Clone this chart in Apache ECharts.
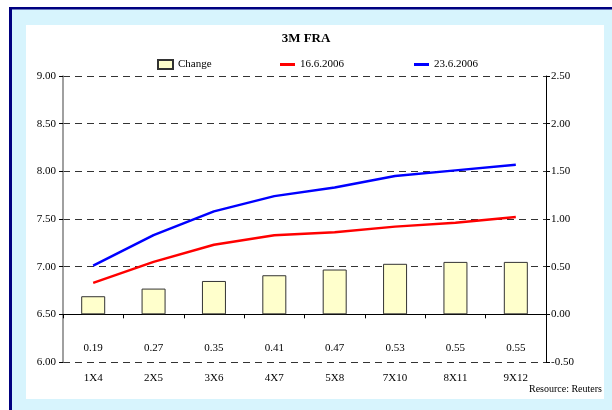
<!DOCTYPE html>
<html>
<head>
<meta charset="utf-8">
<script src="https://cdn.jsdelivr.net/npm/echarts@6/dist/echarts.min.js"></script>
<style>
html,body{margin:0;padding:0;background:#fff;}
#chart{width:612px;height:410px;}
</style>
</head>
<body>
<div id="chart"></div>
<script>
var categories = ['1X4','2X5','3X6','4X7','5X8','7X10','8X11','9X12'];
var change = [0.19,0.27,0.35,0.41,0.47,0.53,0.55,0.55];
var fra16 = [6.83,7.05,7.23,7.33,7.36,7.42,7.46,7.52];
var fra23 = [7.01,7.33,7.58,7.74,7.83,7.95,8.01,8.07];

var serif = 'Liberation Serif, Times New Roman, serif';
var legendText = {fontSize:11, color:'#000', fontFamily:serif};
var chart = echarts.init(document.getElementById('chart'), null, {renderer:'canvas'});
chart.setOption({
  animation:false,
  textStyle:{fontFamily:serif},
  graphic:[
    {type:'rect', z:-100, silent:true, shape:{x:10,y:8,width:602,height:402}, style:{fill:'#D7F4FD'}},
    {type:'rect', z:-99, silent:true, shape:{x:26,y:25,width:578,height:374}, style:{fill:'#FFFFFF'}},
    {type:'rect', z:-98, silent:true, shape:{x:9,y:7,width:603,height:2.5}, style:{fill:'#000080'}},
    {type:'rect', z:-98, silent:true, shape:{x:9,y:7,width:3,height:403}, style:{fill:'#000080'}},
    {type:'text', z:10, silent:true, style:{text:'Resource: Reuters', x:602, y:389, align:'right', verticalAlign:'middle', font:'10px ' + serif, fill:'#000'}}
  ],
  title:{
    text:'3M FRA', left:'center', top:27,
    textStyle:{fontSize:13, fontWeight:'bold', color:'#000', fontFamily:serif}
  },
  legend:[
    {left:157, top:59, padding:0, itemWidth:15, itemHeight:9, itemGap:2, textStyle:legendText,
     data:[{name:'Change', icon:'rect'}]},
    {left:280, top:59, padding:0, itemWidth:15, itemHeight:3, textStyle:legendText,
     data:[{name:'16.6.2006', icon:'rect'}]},
    {left:414, top:59, padding:0, itemWidth:15, itemHeight:3, textStyle:legendText,
     data:[{name:'23.6.2006', icon:'rect'}]}
  ],
  grid:{left:63, right:66, top:76, bottom:48},
  xAxis:{
    type:'category', data:categories,
    axisLine:{lineStyle:{color:'#000', width:1}},
    axisTick:{show:true, length:4, lineStyle:{color:'#000'}},
    axisLabel:{color:'#000', fontSize:11, margin:11, fontFamily:serif}
  },
  yAxis:[
    {type:'value', min:6, max:9, interval:0.5, position:'left',
     axisLine:{show:true, lineStyle:{color:'#808080', width:1.5}},
     axisTick:{show:true, length:4, lineStyle:{color:'#000'}},
     axisLabel:{color:'#000', fontSize:11, margin:7, fontFamily:serif, formatter:function(v){return v.toFixed(2);}},
     splitLine:{show:true, lineStyle:{color:'#333', type:[7,5], width:1}}
    },
    {type:'value', min:-0.5, max:2.5, interval:0.5, position:'right',
     axisLine:{show:true, lineStyle:{color:'#000', width:1}},
     axisTick:{show:true, length:4, lineStyle:{color:'#000'}},
     axisLabel:{color:'#000', fontSize:11, margin:5, fontFamily:serif, formatter:function(v){return v.toFixed(2);}},
     splitLine:{show:false}
    }
  ],
  series:[
    {name:'Change', type:'bar', yAxisIndex:1, data:change, barWidth:24,
     itemStyle:{color:'#FFFFCC', borderColor:'#333', borderWidth:1},
     label:{show:true, position:'bottom', distance:28, color:'#000', fontSize:11, fontFamily:serif,
       formatter:function(p){return p.value.toFixed(2);}}
    },
    {name:'16.6.2006', type:'line', yAxisIndex:0, data:fra16, symbol:'none',
     lineStyle:{color:'#FF0000', width:2.5}, itemStyle:{color:'#FF0000'}},
    {name:'23.6.2006', type:'line', yAxisIndex:0, data:fra23, symbol:'none',
     lineStyle:{color:'#0000FF', width:2.5}, itemStyle:{color:'#0000FF'}}
  ]
});
</script>
</body>
</html>
